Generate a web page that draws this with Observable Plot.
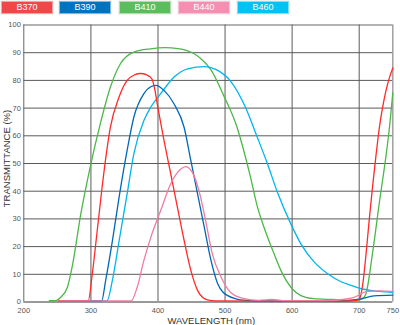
<!DOCTYPE html>
<html><head><meta charset="utf-8">
<script src="https://cdn.jsdelivr.net/npm/d3@7"></script>
<script src="https://cdn.jsdelivr.net/npm/@observablehq/plot@0.6"></script>
<style>
body{margin:0;background:#fff;font-family:"Liberation Sans",Arial,sans-serif;width:400px;height:325px;overflow:hidden}
#legend{position:relative;height:16px}
.key{position:absolute;top:1px;width:50px;height:11px;color:#fff;font-size:9px;line-height:11px;text-align:center;border:1px solid rgba(255,255,255,0.5);box-shadow:0 0 0 0.5px rgba(0,0,0,0.1)}
#chart svg{display:block}
</style></head><body>
<div id="legend"></div>
<div id="chart"></div>
<script>
const seriesNames = ["B370", "B390", "B410", "B440", "B460"];
const keyColors = ["#f04848", "#0073bf", "#5cbd5c", "#f48fb1", "#00c3f3"];
const lineColors = ["#ff2a2a", "#0068b7", "#4cb848", "#f07ca0", "#00b6ef"];
const keyLeft = [1, 59, 119, 178, 237];

const b370_nm = [252, 296, 302, 310, 319, 329, 342, 354, 365, 374, 383, 391, 395, 400, 409, 419, 429, 439, 449, 459, 467, 474, 485, 550, 650, 695, 700, 705, 710, 715, 720, 725, 730, 735, 740, 745, 750];
const b370_t  = [0.4, 0.4, 10, 27, 46, 63, 74, 80, 82, 82.5, 82, 80.5, 77, 70, 58.3, 46.3, 34.2, 22.2, 11.4, 4.2, 1.5, 0.8, 0.4, 0.3, 0.3, 0.5, 1, 6, 17, 30, 42, 53, 63, 70.5, 76.5, 81, 84.5];

const b390_nm = [252, 316, 322, 332, 342, 354, 364, 379, 390, 397, 409, 424, 439, 449, 459, 469, 479, 489, 497, 504, 515, 523, 550, 650, 680, 702, 722, 750];
const b390_t  = [0.4, 0.4, 7.8, 22, 37.8, 54.7, 66.7, 75.2, 77.8, 78.2, 76.4, 71.5, 63, 51, 39, 27, 15, 6.6, 3.5, 2.3, 1.2, 0.8, 0.4, 0.3, 0.4, 1.1, 2.2, 2.5];

const b410_nm = [238, 248, 255, 265, 272, 285, 300, 314, 329, 344, 364, 389, 410, 430, 454, 464, 479, 498, 518, 528, 538, 548, 558, 573, 583, 600, 613, 632, 660, 682, 700, 705, 710, 720, 730, 740, 745, 750];
const b410_t  = [0.5, 0.5, 1.7, 5.3, 12.6, 31.8, 49.9, 64.3, 77.5, 86, 90.2, 91.4, 91.8, 91.5, 89.6, 87.8, 83.8, 74.5, 63, 54.5, 45, 34.5, 27, 17.4, 11.5, 4.8, 2.3, 1.2, 0.9, 0.7, 0.8, 1.2, 3, 18, 36, 53, 63, 75.5];

const b440_nm = [252, 360, 369, 379, 391, 404, 419, 434, 441, 451, 461, 471, 481, 494, 508, 528, 550, 570, 590, 650, 690, 712, 730, 750];
const b440_t  = [0.4, 0.4, 5.3, 15, 24.6, 33, 42.7, 48, 48.9, 46.9, 40.3, 29.4, 17.4, 9, 3.5, 1.2, 0.6, 0.9, 0.5, 0.5, 1.5, 3.8, 4, 3.8];

const b460_nm = [252, 324, 332, 342, 354, 364, 379, 389, 404, 424, 444, 469, 489, 509, 530, 548, 563, 578, 598, 613, 633, 653, 673, 688, 707, 730, 750];
const b460_t  = [0.4, 0.4, 7.8, 22, 39, 53.5, 65.5, 70.3, 75.2, 81.2, 84.2, 85, 83.6, 79.5, 70.5, 59.5, 50, 39.6, 28.2, 21, 14.4, 10.2, 7.3, 6, 4.6, 3.8, 3.5];

const xTicks = [200, 300, 400, 500, 600, 700, 750];
const yTicks = [0, 10, 20, 30, 40, 50, 60, 70, 80, 90, 100];
const xGrid = [300, 400, 500, 600, 700];
const yGrid = [10, 20, 30, 40, 50, 60, 70, 80, 90];
const xTitle = "WAVELENGTH (nm)";
const yTitle = "TRANSMITTANCE (%)";

const legend = document.getElementById("legend");
seriesNames.forEach((n, i) => {
  const d = document.createElement("div");
  d.className = "key";
  d.style.left = keyLeft[i] + "px";
  d.style.background = keyColors[i];
  d.textContent = n;
  legend.appendChild(d);
});

const mk = (nm, t) => nm.map((x, i) => ({nm: x, t: t[i]}));
const order = [2, 4, 1, 0, 3];
const allData = [mk(b370_nm, b370_t), mk(b390_nm, b390_t), mk(b410_nm, b410_t), mk(b440_nm, b440_t), mk(b460_nm, b460_t)];

const chart = Plot.plot({
  width: 400,
  height: 309,
  marginLeft: 23.3,
  marginRight: 7.7,
  marginTop: 8.5,
  marginBottom: 23.5,
  style: {fontFamily: "'Liberation Sans', Arial, sans-serif", background: "#fff"},
  x: {domain: [200, 750]},
  y: {domain: [0, 100]},
  marks: [
    Plot.ruleX(xGrid, {stroke: "#8a8a8a", strokeWidth: 1.4}),
    Plot.ruleY(yGrid, {stroke: "#5a5a5a", strokeWidth: 1}),
    Plot.ruleX([200], {stroke: "#666", strokeWidth: 1}),
    Plot.ruleX([750], {stroke: "#999", strokeWidth: 1.4}),
    Plot.ruleY([100], {stroke: "#666", strokeWidth: 1}),
    Plot.ruleY([0], {stroke: "#999", strokeWidth: 2}),
    ...order.map(i => Plot.line(allData[i], {x: "nm", y: "t", stroke: lineColors[i], strokeWidth: 1.3, curve: "monotone-x"})),
    Plot.axisX(xTicks, {tickSize: 0, tickPadding: 5.5, fontSize: 7.5, fill: "#555", label: null}),
    Plot.axisY(yTicks, {tickSize: 0, tickPadding: 3, fontSize: 7.5, fill: "#555", label: null}),
    Plot.text([xTitle], {frameAnchor: "bottom", dx: 3, dy: 18.5, lineAnchor: "middle", fontSize: 9.5, fill: "#333"}),
    Plot.text([yTitle], {frameAnchor: "left", dx: -17, dy: -5, rotate: -90, lineAnchor: "middle", textAnchor: "middle", fontSize: 9.5, fill: "#333"})
  ]
});
document.getElementById("chart").appendChild(chart);
</script>
</body></html>
